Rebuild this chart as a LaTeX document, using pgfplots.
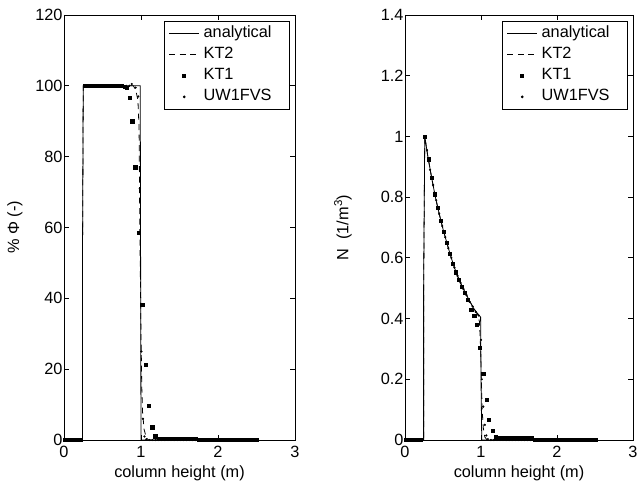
\documentclass[border=0pt]{standalone}
\usepackage{fontspec}
\setmainfont{Liberation Sans}
\usepackage{pgfplots}
\pgfplotsset{compat=1.18}
\newcommand\fs{\fontsize{16.3bp}{19bp}\selectfont}
\pgfplotsset{
  colplot/.style={
    scale only axis, height=425bp,
    xmin=0, xmax=3, xtick={0,1,2,3},
    tick align=inside, major tick length=5bp,
    axis line style={line width=0.8bp},
    every tick/.style={black, line width=0.8bp},
    tick label style={font=\fs},
    /pgf/number format/assume math mode=true,
    xticklabel style={yshift=-3bp},
    yticklabel style={xshift=2bp},
    xlabel={column height (m)},
    every axis x label/.style={font=\fs, at={(axis description cs:0.5,0)}, yshift=-33bp, anchor=center},
    legend style={font=\fs, at={(1,1)}, anchor=north east, xshift=-5bp, yshift=-6bp,
      draw=black, line width=0.8bp, inner xsep=4bp, inner ysep=2bp,
      nodes={inner xsep=4bp, inner ysep=2.5bp, text height=12bp, text depth=4bp}},
    legend cell align=left,
    legend image code/.code={\draw[mark repeat=2,mark phase=2,#1] plot coordinates {(0bp,0bp) (15bp,0bp) (30bp,0bp)};},
  },
  ana/.style={black, line width=0.8bp, mark=none},
  kt2/.style={black, line width=0.8bp, dash pattern=on 6bp off 4.5bp, mark=none},
  kt1/.style={black, only marks, mark=square*, mark size=1.6bp},
  uw/.style={black, only marks, mark=*, mark size=0.9bp},
}
\begin{document}
\begin{tikzpicture}
% left: volume fraction
\begin{axis}[colplot, width=231bp,
  ymin=0, ymax=120, ytick={0,20,...,120},
  ylabel={\% Φ (-)},
  every axis y label/.style={font=\fs, at={(axis description cs:0,0.5)}, xshift=-49bp, rotate=90, anchor=center}]
\addplot[ana] coordinates {(0,0) (0.24,0) (0.24,50) (0.25,100) (0.99,100) (1.0,0) (2.5,0)};
\addlegendentry{analytical\hspace*{10bp}}
\addplot[kt2] coordinates {(0,0) (0.24,0) (0.24,50) (0.25,100) (0.9,100) (0.93,99) (0.96,96) (0.975,88) (0.985,60) (1.0,30) (1.01,15) (1.02,8) (1.04,3) (1.07,0.6) (1.1,0) (2.5,0)};
\addlegendentry{KT2}
\addplot[kt1] coordinates {
 (0.01,0) (0.05,0) (0.09,0) (0.13,0) (0.17,0) (0.21,0)
 (0.27,100) (0.31,100) (0.35,100) (0.39,100) (0.43,100) (0.47,100) (0.51,100) (0.55,100)
 (0.59,100) (0.63,100) (0.67,100) (0.71,100) (0.75,100) (0.79,99.8) (0.81,99.4)
 (0.85,96.6) (0.885,90) (0.925,77) (0.965,58.6) (1.015,38.1) (1.06,21.2) (1.10,9.6)
 (1.145,3.6) (1.185,1.1)
 (1.225,0.35) (1.265,0.35) (1.305,0.35) (1.345,0.35) (1.385,0.35) (1.425,0.35) (1.465,0.35)
 (1.505,0.35) (1.545,0.35) (1.585,0.35) (1.625,0.35) (1.665,0.35) (1.705,0.3)
 (1.745,0.05) (1.785,0.05) (1.825,0.05) (1.865,0.05) (1.905,0.05) (1.945,0.05) (1.985,0.05)
 (2.025,0.05) (2.065,0.05) (2.105,0.05) (2.145,0.05) (2.185,0.05) (2.225,0.05) (2.265,0.05)
 (2.305,0.05) (2.345,0.05) (2.385,0.05) (2.425,0.05) (2.465,0.05) (2.505,0.05)};
\addlegendentry{KT1}
\addplot[uw] coordinates {
 (0.03,0) (0.07,0) (0.11,0) (0.15,0) (0.19,0) (0.23,0)
 (0.29,100) (0.33,100) (0.37,100) (0.41,100) (0.45,100) (0.49,100) (0.53,100) (0.57,100)
 (0.61,100) (0.65,100) (0.69,100) (0.73,100) (0.77,100) (0.81,100) (0.85,100) (0.88,100.5)
 (0.93,99.5) (0.965,97) (0.985,71) (1.005,25) (1.025,6) (1.045,1) (1.07,0.2)
 (1.11,0) (1.15,0) (1.19,0) (1.23,0) (1.27,0) (1.31,0) (1.35,0) (1.39,0) (1.43,0) (1.47,0)
 (1.51,0) (1.55,0) (1.59,0) (1.63,0) (1.67,0) (1.71,0) (1.75,0) (1.79,0) (1.83,0) (1.87,0)
 (1.91,0) (1.95,0) (1.99,0) (2.03,0) (2.07,0) (2.11,0) (2.15,0) (2.19,0) (2.23,0) (2.27,0)
 (2.31,0) (2.35,0) (2.39,0) (2.43,0) (2.47,0) (2.51,0)};
\addlegendentry{UW1FVS}
\end{axis}
% right: number density
\begin{axis}[colplot, width=228bp, xshift=341bp,
  ymin=0, ymax=1.4, ytick={0,0.2,...,1.4},
  ylabel={N\ \ (1/m\textsuperscript{3})},
  every axis y label/.style={font=\fs, at={(axis description cs:0,0.5)}, xshift=-62bp, rotate=90, anchor=center}]
\addplot[ana] coordinates {(0,0) (0.245,0) (0.245,0.5) (0.26,1.0) (0.30,0.935) (0.35,0.865) (0.40,0.80)
 (0.45,0.745) (0.50,0.695) (0.55,0.65) (0.60,0.607) (0.65,0.568) (0.70,0.535) (0.75,0.507)
 (0.80,0.482) (0.85,0.458) (0.90,0.435) (0.95,0.418) (0.995,0.405) (1.0,0.2) (1.01,0) (2.5,0)};
\addlegendentry{analytical\hspace*{10bp}}
\addplot[kt2] coordinates {(0,0) (0.245,0) (0.245,0.5) (0.26,1.0) (0.30,0.935) (0.35,0.865) (0.40,0.80)
 (0.45,0.745) (0.50,0.695) (0.55,0.65) (0.60,0.607) (0.65,0.568) (0.70,0.535) (0.75,0.507)
 (0.80,0.482) (0.85,0.458) (0.90,0.435) (0.95,0.415) (0.98,0.39) (0.995,0.3) (1.005,0.2)
 (1.015,0.1) (1.03,0.04) (1.05,0.01) (1.08,0) (2.5,0)};
\addlegendentry{KT2}
\addplot[kt1] coordinates {
 (0.01,0) (0.05,0) (0.09,0) (0.13,0) (0.17,0) (0.21,0)
 (0.26,1.0) (0.31,0.925) (0.35,0.865) (0.39,0.81) (0.43,0.765) (0.47,0.722) (0.51,0.685)
 (0.55,0.65) (0.59,0.615) (0.63,0.582) (0.67,0.553) (0.71,0.528) (0.75,0.505) (0.79,0.485)
 (0.83,0.462) (0.87,0.43) (0.91,0.41) (0.945,0.379) (0.98,0.304) (1.03,0.218) (1.076,0.133)
 (1.105,0.067) (1.154,0.03) (1.19,0.009)
 (1.23,0.008) (1.27,0.008) (1.31,0.008) (1.35,0.008) (1.39,0.008) (1.43,0.008) (1.47,0.008)
 (1.51,0.008) (1.55,0.008) (1.59,0.008) (1.63,0.008) (1.67,0.007)
 (1.71,0.001) (1.75,0.001) (1.79,0.001) (1.83,0.001) (1.87,0.001) (1.91,0.001) (1.95,0.001)
 (1.99,0.001) (2.03,0.001) (2.07,0.001) (2.11,0.001) (2.15,0.001) (2.19,0.001) (2.23,0.001)
 (2.27,0.001) (2.31,0.001) (2.35,0.001) (2.39,0.001) (2.43,0.001) (2.47,0.001) (2.51,0.001)};
\addlegendentry{KT1}
\addplot[uw] coordinates {
 (0.03,0) (0.07,0) (0.11,0) (0.15,0) (0.19,0) (0.23,0)
 (0.29,0.955) (0.33,0.89) (0.37,0.84) (0.41,0.79) (0.45,0.745) (0.49,0.705) (0.53,0.668)
 (0.57,0.632) (0.61,0.6) (0.65,0.568) (0.69,0.541) (0.73,0.518) (0.77,0.497) (0.81,0.477)
 (0.85,0.455) (0.89,0.44) (0.93,0.422) (0.97,0.41) (1.0,0.33) (1.01,0.2) (1.03,0.11)
 (1.05,0.05) (1.07,0.015) (1.09,0.003)
 (1.13,0) (1.17,0) (1.21,0) (1.25,0) (1.29,0) (1.33,0) (1.37,0) (1.41,0) (1.45,0) (1.49,0)
 (1.53,0) (1.57,0) (1.61,0) (1.65,0) (1.69,0) (1.73,0) (1.77,0) (1.81,0) (1.85,0) (1.89,0)
 (1.93,0) (1.97,0) (2.01,0) (2.05,0) (2.09,0) (2.13,0) (2.17,0) (2.21,0) (2.25,0) (2.29,0)
 (2.33,0) (2.37,0) (2.41,0) (2.45,0) (2.49,0)};
\addlegendentry{UW1FVS}
\end{axis}
\pgfresetboundingbox
\useasboundingbox (-64bp,-47bp) rectangle (573bp,440bp);
\end{tikzpicture}
\end{document}
